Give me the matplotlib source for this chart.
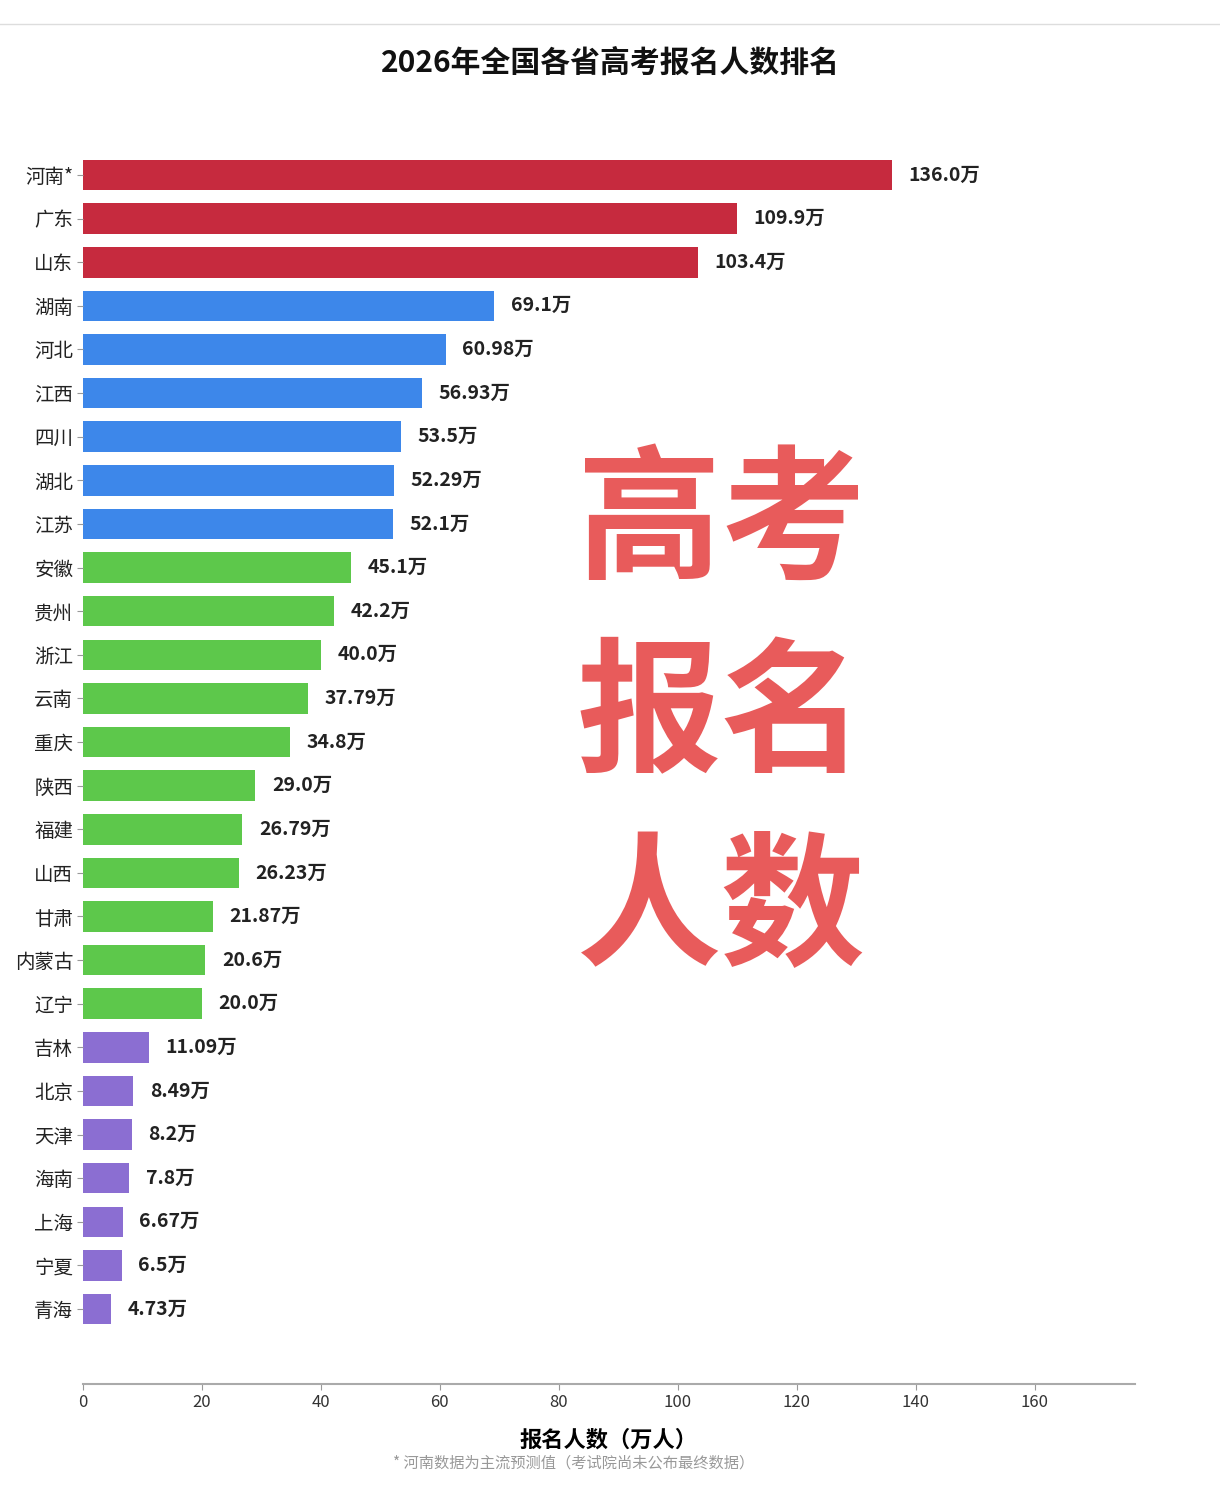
import numpy as np
import matplotlib.pyplot as plt
from matplotlib.lines import Line2D

plt.rcParams['font.family'] = ['Noto Sans CJK SC', 'DejaVu Sans']

provinces = ['河南*', '广东', '山东', '湖南', '河北', '江西', '四川', '湖北', '江苏',
             '安徽', '贵州', '浙江', '云南', '重庆', '陕西', '福建', '山西', '甘肃',
             '内蒙古', '辽宁', '吉林', '北京', '天津', '海南', '上海', '宁夏', '青海']
values = [136.0, 109.9, 103.4, 69.1, 60.98, 56.93, 53.5, 52.29, 52.1,
          45.1, 42.2, 40.0, 37.79, 34.8, 29.0, 26.79, 26.23, 21.87,
          20.6, 20.0, 11.09, 8.49, 8.2, 7.8, 6.67, 6.5, 4.73]
value_labels = ['136.0万', '109.9万', '103.4万', '69.1万', '60.98万', '56.93万', '53.5万',
                '52.29万', '52.1万', '45.1万', '42.2万', '40.0万', '37.79万', '34.8万',
                '29.0万', '26.79万', '26.23万', '21.87万', '20.6万', '20.0万', '11.09万',
                '8.49万', '8.2万', '7.8万', '6.67万', '6.5万', '4.73万']
tiers = ['r'] * 3 + ['b'] * 6 + ['g'] * 11 + ['p'] * 7
tier_colors = {'r': '#C62A3E', 'b': '#3D87EA', 'g': '#5DC84B', 'p': '#8B6ED2'}

fig = plt.figure(figsize=(12.2, 14.9), dpi=100)
ax = fig.add_axes([0.068, 0.0711, 0.862, 0.829])

y = np.arange(len(provinces))
colors = [tier_colors[t] for t in tiers]
ax.barh(y, values, height=0.7, color=colors)

for yi, v, lab in zip(y, values, value_labels):
    ax.text(v + 2.8, yi, lab, va='center', ha='left', fontsize=14,
            fontweight='bold', color='#222222')

ax.set_xlim(0, 176.8)
ax.set_ylim(len(provinces) - 1 + 1.72, -0.6)
ax.set_yticks(y)
ax.set_yticklabels(provinces, fontsize=14, color='#222222')
ax.set_xticks(np.arange(0, 161, 20))
ax.tick_params(axis='x', labelsize=12, colors='#333333', length=4, color='#999999')
ax.tick_params(axis='y', length=4, color='#999999', pad=3)

for s in ['top', 'right', 'left']:
    ax.spines[s].set_visible(False)
ax.spines['bottom'].set_color('#aaaaaa')
ax.spines['bottom'].set_linewidth(1.5)

ax.set_xlabel('报名人数（万人）', fontsize=16, fontweight='bold', labelpad=12)

fig.text(0.5, 0.958, '2026年全国各省高考报名人数排名', ha='center', va='center',
         fontsize=21.5, fontweight='bold', color='#111111')

# footnote
fig.text(0.47, 0.018, '* 河南数据为主流预测值（考试院尚未公布最终数据）', ha='center',
         va='center', fontsize=11, color='#999999')

# overlay big text
for txt, yy in zip(['高考', '报名', '人数'], [0.648, 0.518, 0.389]):
    fig.text(0.591, yy, txt, ha='center', va='center', fontsize=104,
             fontweight='heavy', color='#E85B5B')

# thin frame line at top
fig.add_artist(Line2D([0, 1], [0.984, 0.984], transform=fig.transFigure,
                      color='#dddddd', linewidth=1))

fig.savefig('out.png', dpi=100, facecolor='white')
